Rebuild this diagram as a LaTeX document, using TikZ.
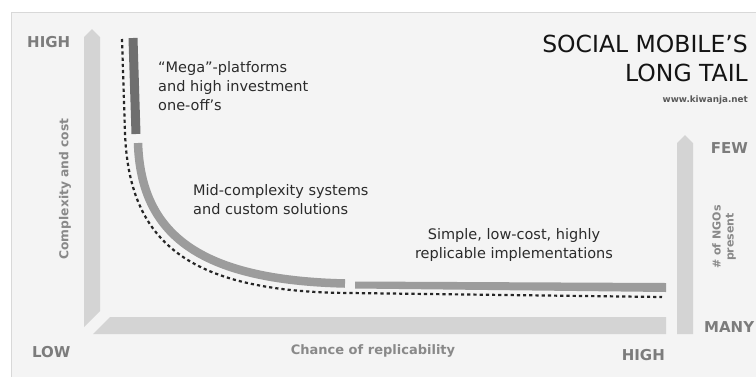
\documentclass[tikz,border=0pt]{standalone}
\usepackage{fontspec}
\setmainfont{DejaVu Sans}
\usepackage{xcolor}
\usetikzlibrary{calc}

\definecolor{paper}{HTML}{F4F4F4}
\definecolor{frameline}{HTML}{D8D8D8}
\definecolor{barfill}{HTML}{D4D4D4}
\definecolor{tailfill}{HTML}{9C9C9C}
\definecolor{headfill}{HTML}{6F6F6F}
\definecolor{axistext}{HTML}{7C7C7C}
\definecolor{bodytext}{HTML}{2B2B2B}

\tikzset{
  axisword/.style={font=\fontsize{15}{18}\selectfont\bfseries, text=axistext, inner sep=0pt},
  axisname/.style={font=\fontsize{12.3}{15}\selectfont\bfseries, text=axistext!90, inner sep=0pt},
  segtext/.style={font=\fontsize{14.5}{19}\selectfont, text=bodytext, inner sep=0pt},
  titletext/.style={font=\fontsize{23.5}{29}\selectfont, text=black!92, inner sep=0pt, align=right}
}

\begin{document}
\begin{tikzpicture}[x=1pt, y=-1pt]
    \useasboundingbox (0,0) rectangle (756,376);
    \fill[white] (0,0) rectangle (756,376);
    \filldraw[fill=paper, draw=frameline, line width=0.8pt] (11,12) rectangle (758,378);

    % axes bars
    \coordinate (yTip) at (92,29);
    \coordinate (nTip) at (685,135);
    \fill[barfill] (84,37) -- (yTip) -- (100,37) -- (100,311) -- (84,327) -- cycle;
    \fill[barfill] (93,334) -- (110,317) -- (666,317) -- (666,334) -- cycle;
    \fill[barfill] (677,143) -- (nTip) -- (693,143) -- (693,334) -- (677,334) -- cycle;

    % the long tail
    \coordinate (megaTop) at (133,38);
    \coordinate (megaEnd) at (136,134);
    \coordinate (midTop) at (138,143);
    \coordinate (midEnd) at (345,283.5);
    \draw[headfill, line width=9pt] (megaTop) -- (megaEnd);
    \draw[tailfill, line width=8.5pt] (midTop) .. controls (141,235) and (200,280) .. (midEnd);
    \fill[tailfill] (355,281.5) -- (666,283) -- (666,292) -- (355,288.5) -- cycle;
    \draw[black!85, line width=2.2pt, dash pattern=on 3.2pt off 3pt]
        (122,39) -- (125,133) .. controls (129,240) and (185,292) .. (350,293) -- (662,297);

    % axis words
    \node[axisword, anchor=base west] (hiY) at (27,47) {HIGH};
    \node[axisword, anchor=base west] (loY) at (32,357) {LOW};
    \node[axisword, anchor=base east] (hiX) at (665,360) {HIGH};
    \node[axisword, anchor=base] (few) at (729.5,153) {FEW};
    \node[axisword, anchor=base west] (many) at (704,332) {MANY};
    \node[axisname, rotate=90] (cost) at (65,189) {Complexity and cost};
    \node[axisname, font=\fontsize{13}{16}\selectfont\bfseries] (chance) at (373,351) {Chance of replicability};
    \node[axisname, font=\fontsize{11}{13}\selectfont\bfseries, rotate=90, align=center] (ngos) at (724,237) {\# of NGOs\\present};

    % segment labels
    \node[segtext, anchor=north west, align=left] (mega) at (158,61) {“Mega”-platforms\\and high investment\\one-off’s};
    \node[segtext, anchor=north west, align=left] (mid) at (193,184) {Mid-complexity systems\\and custom solutions};
    \node[segtext, anchor=north, align=center] (simple) at (514,228) {Simple, low-cost, highly\\replicable implementations};

    % title
    \node[titletext, anchor=north east] (title) at (748,35) {SOCIAL MOBILE’S\\LONG TAIL};
    \node[anchor=base east, inner sep=0pt, font=\fontsize{8.8}{10}\selectfont\bfseries, text=black!65] (site) at (748,102) {www.kiwanja.net};
\end{tikzpicture}
\end{document}
